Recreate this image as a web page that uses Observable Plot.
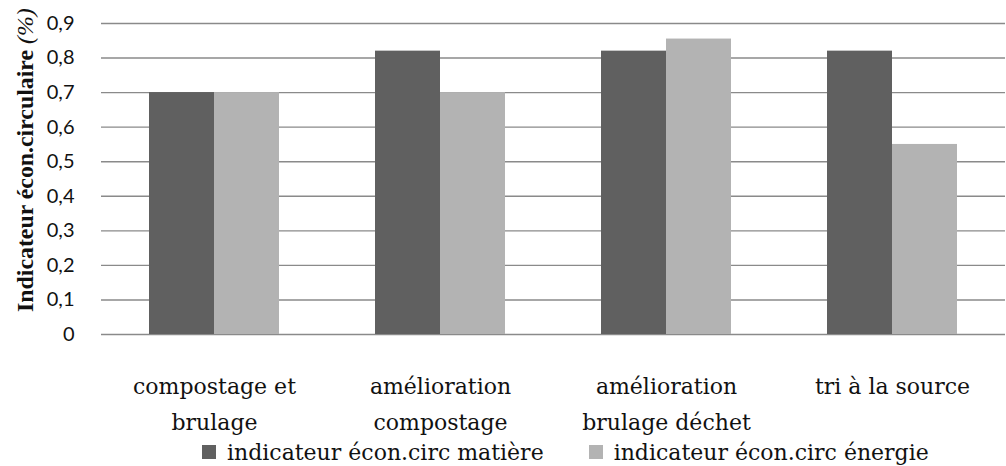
<!DOCTYPE html>
<html>
<head>
<meta charset="utf-8">
<script src="https://cdn.jsdelivr.net/npm/d3@7"></script>
<script src="https://cdn.jsdelivr.net/npm/@observablehq/plot@0.6"></script>
<style>
  html, body { margin: 0; padding: 0; background: #fff; }
  #chart { width: 1006px; }
  .legend { display: flex; align-items: center; height: 28px; margin-top: 2px; font-family: "DejaVu Serif", serif; font-size: 22px; color: #111; padding-left: 202px; white-space: nowrap; }
  .legend .sw { display: inline-block; width: 14px; height: 14px; margin-right: 11px; }
  .legend .item { display: flex; align-items: center; }
</style>
</head>
<body>
<div id="chart"></div>
<script>
const categories = ["compostage et brulage", "amélioration compostage", "amélioration brulage déchet", "tri à la source"];
const categoryLabels = ["compostage et\nbrulage", "amélioration\ncompostage", "amélioration\nbrulage déchet", "tri à la source"];
const seriesNames = ["indicateur écon.circ matière", "indicateur écon.circ énergie"];
const matiere = [0.70, 0.82, 0.82, 0.82];
const energie = [0.70, 0.70, 0.855, 0.55];
const yTicks = [0, 0.1, 0.2, 0.3, 0.4, 0.5, 0.6, 0.7, 0.8, 0.9];
const colors = ["#606060", "#b3b3b3"];

const data = [];
categories.forEach((c, i) => {
  data.push({cat: c, series: seriesNames[0], value: matiere[i]});
  data.push({cat: c, series: seriesNames[1], value: energie[i]});
});
const labelOf = new Map(categories.map((c, i) => [c, categoryLabels[i]]));
const fmt = d => d === 0 ? "0" : d.toFixed(1).replace(".", ",");

const chart = Plot.plot({
  width: 1006,
  height: 436,
  marginTop: 23,
  marginBottom: 102,
  marginLeft: 100,
  marginRight: 0,
  style: {background: "#fff"},
  fx: {domain: categories, padding: 0, label: null},
  x: {domain: seriesNames, paddingInner: 0, paddingOuter: 0.73, axis: null},
  y: {domain: [0, 0.9], label: null},
  color: {domain: seriesNames, range: colors},
  marks: [
    Plot.gridY(yTicks, {stroke: "#8a8a8a", strokeOpacity: 1, strokeWidth: 1.4}),
    Plot.ruleX([0], {frameAnchor: "left", stroke: "#8a8a8a", strokeWidth: 1.4}),
    Plot.barY(data, {fx: "cat", x: "series", y: "value", fill: "series", inset: 0}),
    Plot.axisY(yTicks, {tickSize: 0, tickPadding: 27, tickFormat: fmt, fontSize: 20, fontFamily: "Lato, 'Open Sans', sans-serif", fill: "#111", label: null}),
    Plot.axisFx({anchor: "bottom", tickSize: 0, tickPadding: 35, tickFormat: d => labelOf.get(d), fontSize: 22, lineHeight: 1.6, fontFamily: "'DejaVu Serif', serif", fill: "#111", label: null})
  ]
});

document.getElementById("chart").appendChild(chart);

// y-axis title with bold part and italic unit
const svg = d3.select(chart);
const t = svg.append("text")
  .attr("transform", "translate(33,312) rotate(-90)")
  .attr("text-anchor", "start")
  .attr("font-family", "'Liberation Serif', serif")
  .attr("font-size", 22)
  .attr("fill", "#111");
t.append("tspan").attr("font-weight", "bold").text("Indicateur écon.circulaire ");
t.append("tspan").attr("font-style", "italic").text("(%)");
const len = t.node().getComputedTextLength();
t.attr("font-size", 22 * 304 / len);

const legend = document.createElement("div");
legend.className = "legend";
seriesNames.forEach((s, i) => {
  const item = document.createElement("span");
  item.className = "item";
  item.style.marginRight = i === 0 ? "45px" : "0";
  const sw = document.createElement("span");
  sw.className = "sw";
  sw.style.background = colors[i];
  item.appendChild(sw);
  item.appendChild(document.createTextNode(s));
  legend.appendChild(item);
});
document.getElementById("chart").appendChild(legend);
</script>
</body>
</html>
